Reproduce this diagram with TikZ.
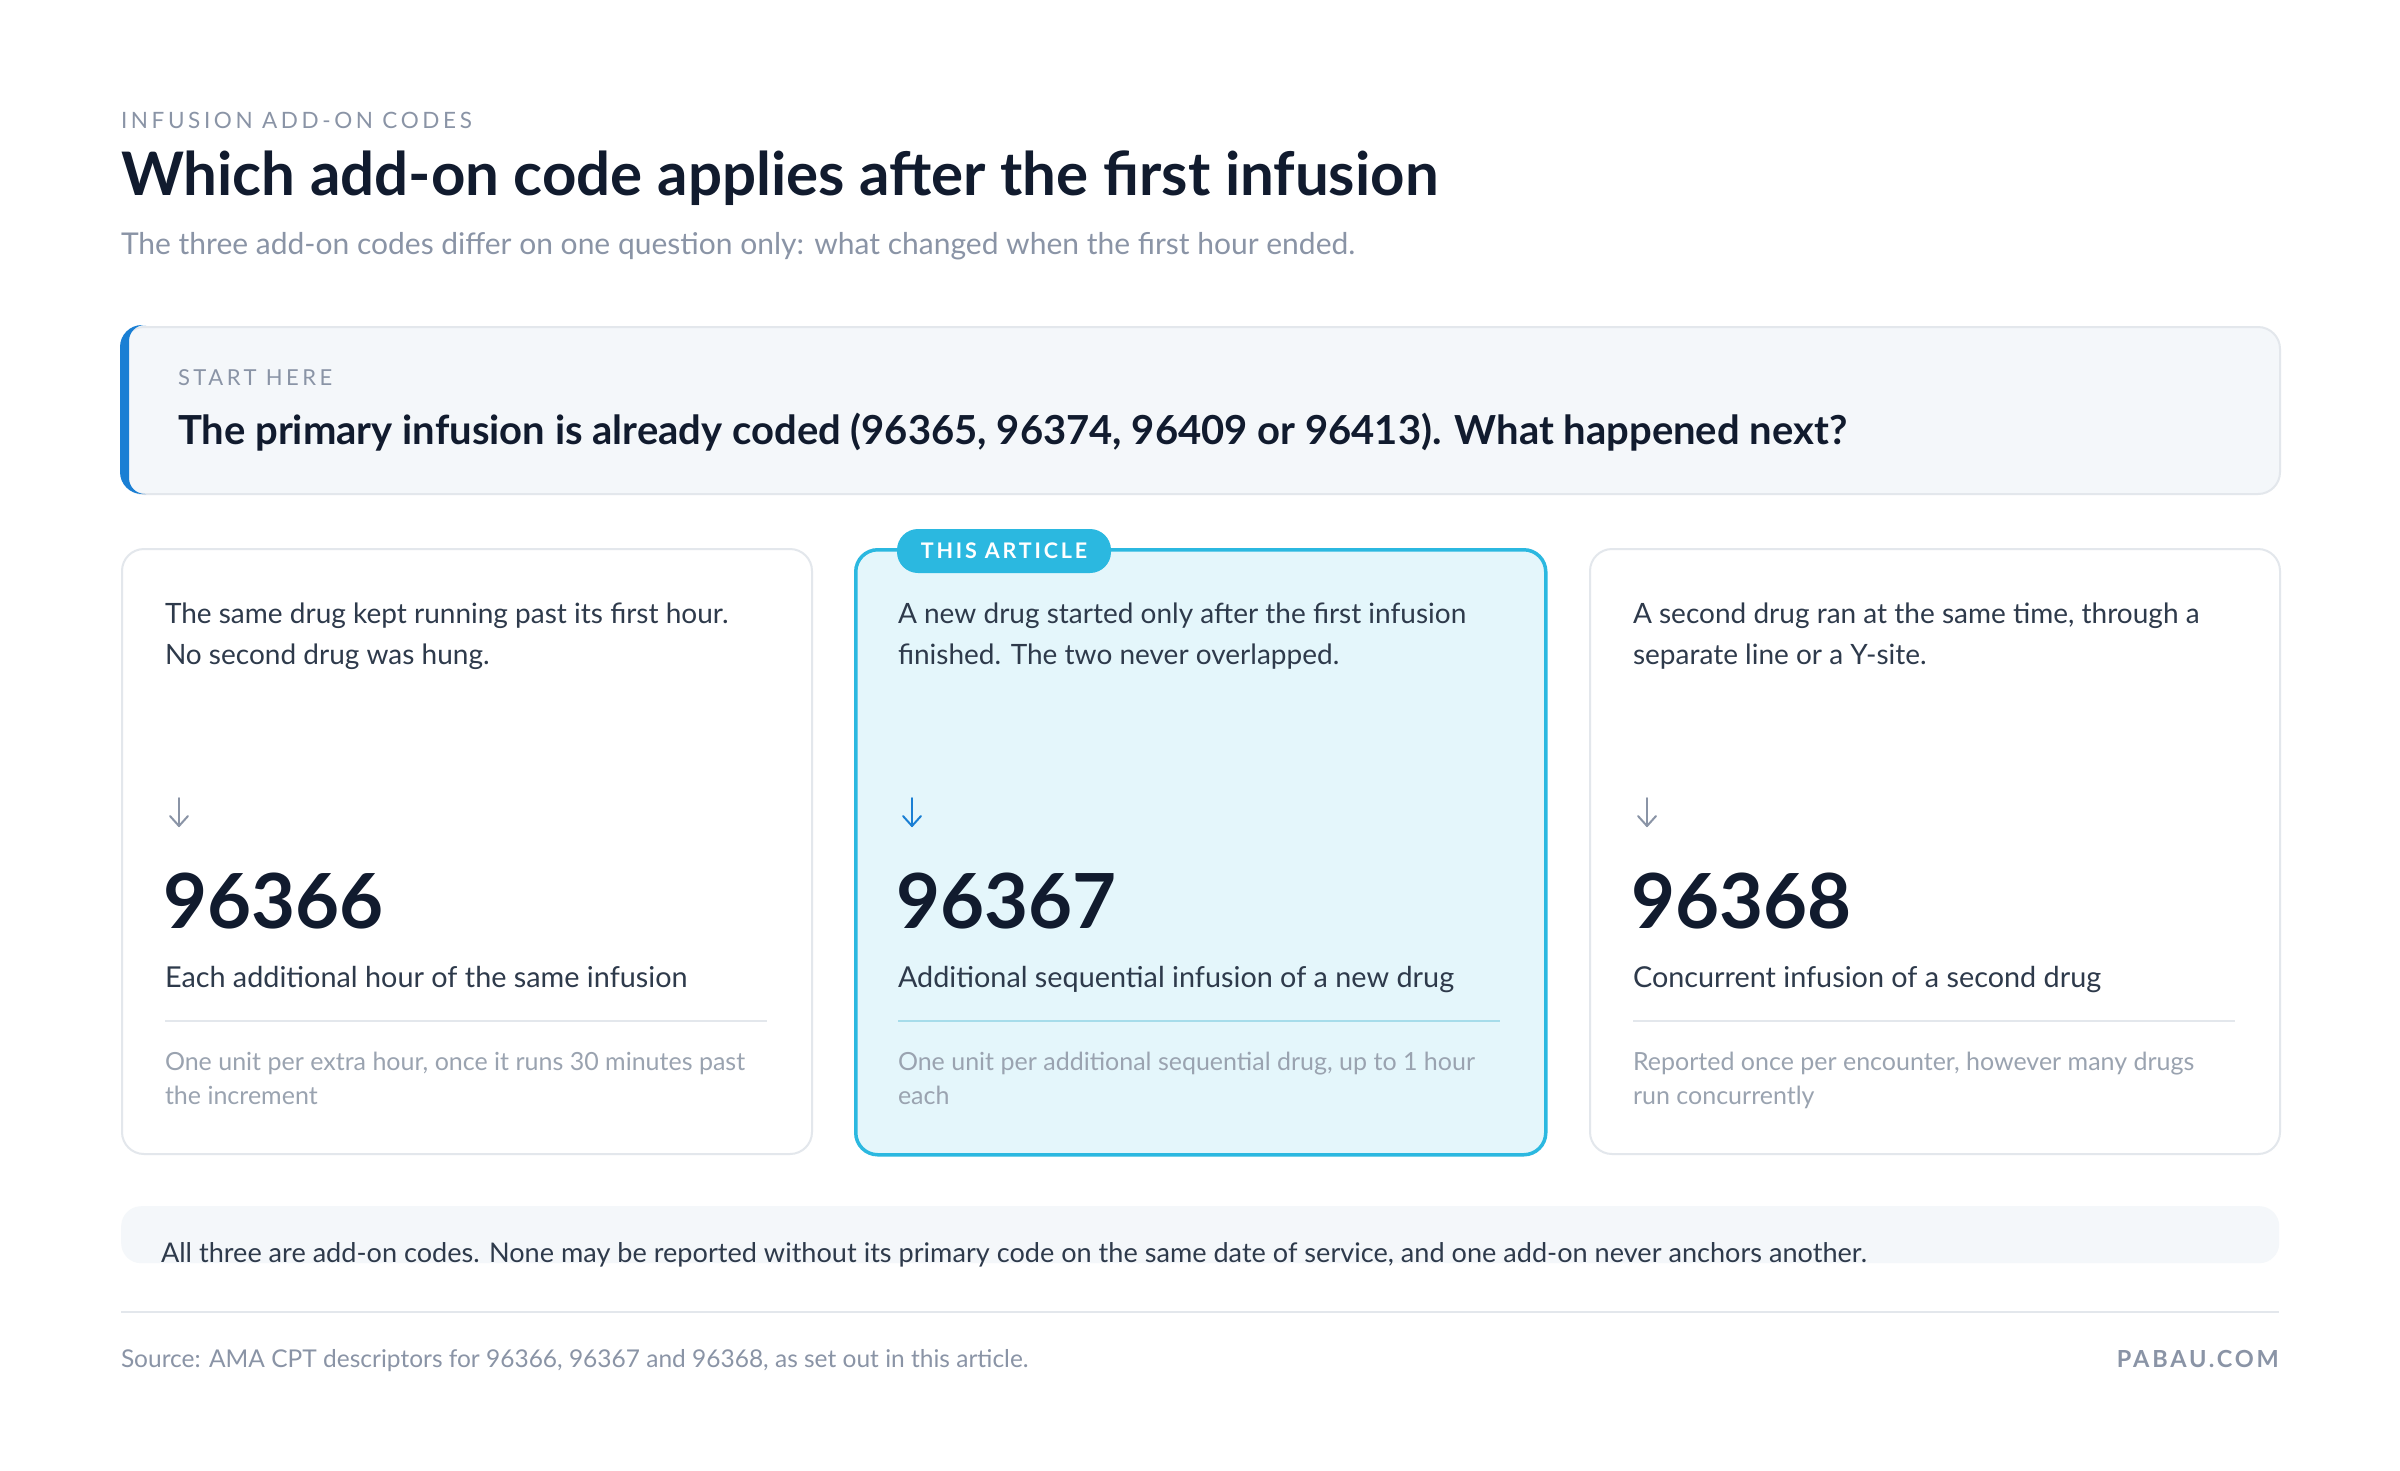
\documentclass[tikz,border=0pt]{standalone}
\usepackage{fontspec}
\setmainfont{Lato}
\usetikzlibrary{calc}
\definecolor{ink}{HTML}{111B2E}
\definecolor{bodyc}{HTML}{2E3A4B}
\definecolor{muted}{HTML}{8A94A6}
\definecolor{faint}{HTML}{9AA3B0}
\definecolor{bord}{HTML}{E3E7EC}
\definecolor{panel}{HTML}{F4F7FA}
\definecolor{accent}{HTML}{1A7FD4}
\definecolor{cyan}{HTML}{2BB8E0}
\definecolor{cyanfill}{HTML}{E4F6FB}
\definecolor{cyanline}{HTML}{A6DCEA}
\newcommand\fsz[2]{\fontsize{#1}{#2}\selectfont}
\tikzset{
  txt/.style={anchor=base west, inner sep=0pt, outer sep=0pt},
  card/.style={draw=bord, line width=2pt, fill=white, rounded corners=22pt, anchor=north west, minimum width=690pt, minimum height=605pt, inner sep=0pt},
  hicard/.style={card, draw=cyan, line width=3.5pt, fill=cyanfill},
  cardtext/.style={txt, font=\fsz{28}{41}, text=bodyc, align=left},
  codenum/.style={txt, font=\fsz{76}{80}\bfseries, text=ink},
  subhead/.style={txt, font=\fsz{28.8}{32}, text=bodyc},
  note/.style={txt, font=\fsz{25}{34}, text=faint, align=left},
  divider/.style={draw=bord, line width=2pt},
  arrowglyph/.style={draw=muted, line width=2pt, line cap=round, line join=round},
}
\begin{document}
\begin{tikzpicture}[x=1pt, y=-1pt]
\useasboundingbox[fill=white] (0,0) rectangle (2400,1470);

% header
\node[txt, font=\fsz{22.5}{26}\addfontfeatures{LetterSpace=16}, text=muted] (eyebrow) at (121,128) {INFUSION ADD-ON CODES};
\node[txt, font=\fsz{60}{66}\bfseries, text=ink] (title) at (121,195) {Which add-on code applies after the first infusion};
\node[txt, font=\fsz{30}{34}, text=muted] (subtitle) at (121,254) {The three add-on codes differ on one question only: what changed when the first hour ended.};

% start box
\node[draw=bord, line width=2pt, fill=panel, rounded corners=22pt, anchor=north west, minimum width=2158pt, minimum height=167pt, inner sep=0pt] (start) at (121,326) {};
\begin{scope}
  \clip (116,320) rectangle (146,500);
  \fill[accent, even odd rule]
    [rounded corners=22pt] (120,325) rectangle (2280,494)
    [rounded corners=16pt] (129,325) rectangle (2280,494);
\end{scope}
\node[txt, font=\fsz{22}{24}\addfontfeatures{LetterSpace=16}, text=muted] (starthere) at (178,385) {START HERE};
\node[txt, font=\fsz{40}{44}\bfseries, text=ink] (question) at (178,444) {The primary infusion is already coded (96365, 96374, 96409 or 96413). What happened next?};

% cards
\node[card] (c1) at (121,548) {};
\node[hicard] (c2) at (854,548) {};
\node[card] (c3) at (1589,548) {};

% badge
\node[fill=cyan, rounded corners=21pt, minimum width=214pt, minimum height=44pt, inner sep=0pt, text=white, font=\fsz{21.5}{24}\bfseries\addfontfeatures{LetterSpace=13}] (badge) at (1004,551) {THIS ARTICLE};

% card 1
\node[cardtext] (t1) at (165,664) {The same drug kept running past its first hour.\\No second drug was hung.};
\coordinate (a1s) at (179,798); \coordinate (a1e) at (179,826);
\draw[arrowglyph] (a1s) -- (a1e);
\draw[arrowglyph] ($(a1e)+(-9,-10)$) -- (a1e) -- ($(a1e)+(9,-10)$);
\node[codenum] (n1) at (163,928) {96366};
\node[subhead] (s1) at (165,987) {Each additional hour of the same infusion};
\coordinate (d1a) at (165,1021); \coordinate (d1b) at (767,1021);
\draw[divider] (d1a) -- (d1b);
\node[note] (o1) at (165,1104) {One unit per extra hour, once it runs 30 minutes past\\the increment};

% card 2
\node[cardtext] (t2) at (898,664) {A new drug started only after the first infusion\\finished. The two never overlapped.};
\coordinate (a2s) at (912,798); \coordinate (a2e) at (912,826);
\draw[arrowglyph, draw=accent] (a2s) -- (a2e);
\draw[arrowglyph, draw=accent] ($(a2e)+(-9,-10)$) -- (a2e) -- ($(a2e)+(9,-10)$);
\node[codenum] (n2) at (896,928) {96367};
\node[subhead] (s2) at (898,987) {Additional sequential infusion of a new drug};
\coordinate (d2a) at (898,1021); \coordinate (d2b) at (1500,1021);
\draw[divider, draw=cyanline] (d2a) -- (d2b);
\node[note] (o2) at (898,1104) {One unit per additional sequential drug, up to 1 hour\\each};

% card 3
\node[cardtext] (t3) at (1633,664) {A second drug ran at the same time, through a\\separate line or a Y-site.};
\coordinate (a3s) at (1647,798); \coordinate (a3e) at (1647,826);
\draw[arrowglyph] (a3s) -- (a3e);
\draw[arrowglyph] ($(a3e)+(-9,-10)$) -- (a3e) -- ($(a3e)+(9,-10)$);
\node[codenum] (n3) at (1631,928) {96368};
\node[subhead] (s3) at (1633,987) {Concurrent infusion of a second drug};
\coordinate (d3a) at (1633,1021); \coordinate (d3b) at (2235,1021);
\draw[divider] (d3a) -- (d3b);
\node[note] (o3) at (1633,1104) {Reported once per encounter, however many drugs\\run concurrently};

% bottom note
\node[fill=panel, rounded corners=20pt, anchor=north west, minimum width=2158pt, minimum height=57pt, inner sep=0pt] (footbox) at (121,1206) {};
\node[txt, font=\fsz{27.1}{32}, text=bodyc] (footnote) at (161,1262) {All three are add-on codes. None may be reported without its primary code on the same date of service, and one add-on never anchors another.};

% rule and source
\coordinate (r1) at (121,1312); \coordinate (r2) at (2279,1312);
\draw[divider] (r1) -- (r2);
\node[txt, font=\fsz{24.5}{28}, text=muted] (source) at (121,1367) {Source: AMA CPT descriptors for 96366, 96367 and 96368, as set out in this article.};
\node[anchor=base east, inner sep=0pt, font=\fsz{23.5}{26}\bfseries\addfontfeatures{LetterSpace=12}, text=muted] (brand) at (2279,1367) {PABAU.COM};
\end{tikzpicture}
\end{document}
